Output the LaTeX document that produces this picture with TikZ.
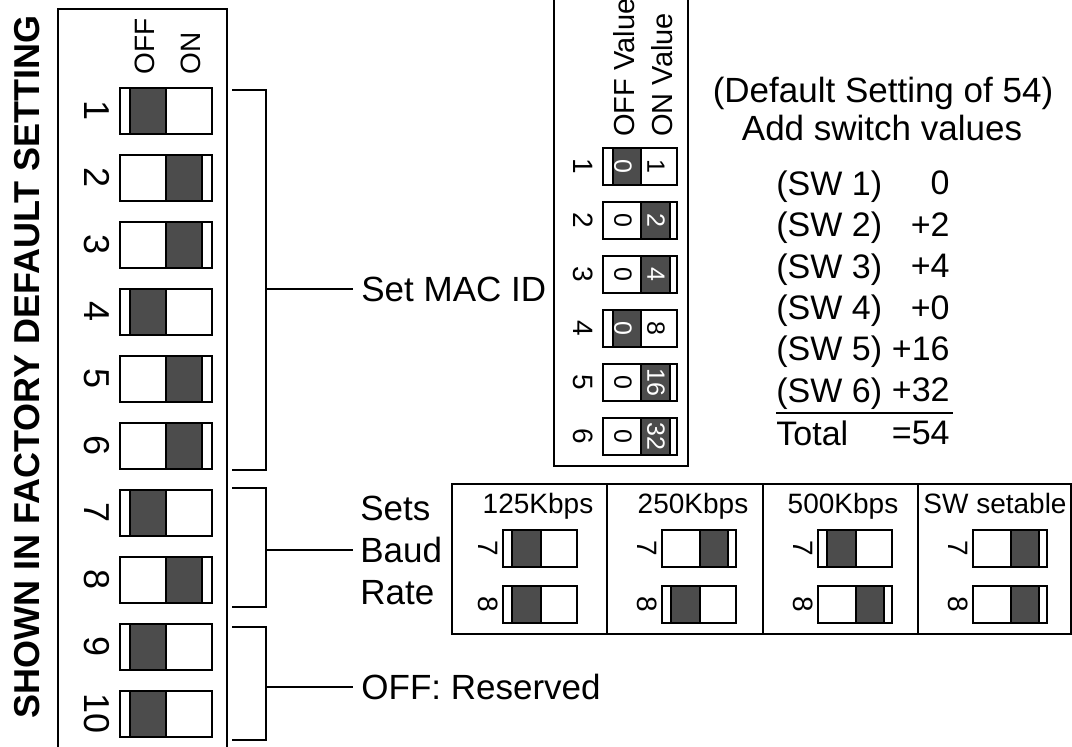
\documentclass[tikz,border=0pt]{standalone}
\usepackage{fontspec}
\setmainfont{Liberation Sans}
\usetikzlibrary{positioning}

\begin{document}
\begin{tikzpicture}[x=0.5pt, y=-0.5pt,
    frame/.style  = {line width=1.3pt, draw=black},
    swbody/.style = {line width=1pt, draw=black, fill=white},
    slider/.style = {line width=1pt, draw=black, fill=black!70},
    brk/.style    = {line width=1pt, draw=black},
    big/.style    = {font=\fontsize{17.5}{21}\selectfont, inner sep=0pt,
                     text depth=0pt},
    sumtxt/.style = {font=\fontsize{17}{20}\selectfont, inner sep=0pt,
                     text depth=0pt},
    title/.style  = {font=\fontsize{18}{22}\selectfont\bfseries, inner sep=0pt,
                     text depth=0pt, rotate=90},
    swnum/.style  = {font=\fontsize{18}{22}\selectfont, inner sep=0pt,
                     text depth=0pt, rotate=-90},
    small/.style  = {font=\fontsize{14}{17}\selectfont, inner sep=0pt,
                     text depth=0pt},
    rownum/.style = {font=\fontsize{14}{17}\selectfont, inner sep=0pt,
                     text depth=0pt, rotate=-90},
    val/.style    = {font=\fontsize{12.5}{15}\selectfont, inner sep=0pt,
                     text depth=0pt, rotate=-90},
]

\clip (0,0) rectangle (1072,747);

%% ==================================================================
%% DIP SWITCH BLOCK (factory default)
%% ==================================================================
\draw[frame] (58,760) -- (58,9) -- (227,9) -- (227,760);
\node[title] (factory) at (27,367) {SHOWN IN FACTORY DEFAULT SETTING};

\node[small, rotate=90, anchor=west] (offhd) at (145,75) {OFF};
\node[small, rotate=90, anchor=west] (onhd) at (191,75) {ON};

\foreach \i/\st in {1/0,2/1,3/1,4/0,5/1,6/1,7/0,8/1,9/0,10/0}{
    \pgfmathsetmacro{\yt}{88+67*(\i-1)}
    \pgfmathsetmacro{\sx}{130+36*\st}
    \draw[swbody] (120,\yt) rectangle (212,\yt+46);
    \draw[swbody] (166,\yt) -- (166,\yt+46);
    \draw[slider] (\sx,\yt) rectangle (\sx+36,\yt+46);
    \node[swnum] (sw\i) at (97,\yt+23) {\i};
}

%% ==================================================================
%% BRACKETS + LABELS
%% ==================================================================
\coordinate (macmid) at (266,289);
\coordinate (baudmid) at (266,550);
\coordinate (resmid) at (266,687);

\draw[brk] (232,90) -| (266,470) -- (232,470);
\draw[brk] (232,488) -| (266,607) -- (232,607);
\draw[brk] (232,627) -| (266,740) -- (232,740);

\node[big, anchor=west, inner xsep=4pt] (macid) at (353,289) {Set MAC ID};
\node[big, anchor=west, inner xsep=3.5pt, align=left] (baud) at (353,550)
    {Sets\\Baud\\Rate};
\node[big, anchor=west, inner xsep=4pt] (reserved) at (353,687)
    {OFF: Reserved};

\draw[brk] (macmid) -- (macid.west);
\draw[brk] (baudmid) -- (baud.west);
\draw[brk] (resmid) -- (reserved.west);

%% ==================================================================
%% MAC ID VALUE TABLE
%% ==================================================================
\draw[frame] (554,-10) -- (554,466) -- (688,466) -- (688,-10);
\node[small, font=\fontsize{14.5}{17}\selectfont, rotate=90, anchor=west]
    (offval) at (624,137) {OFF Value};
\node[small, font=\fontsize{14.5}{17}\selectfont, rotate=90, anchor=west]
    (onval) at (662,137) {ON Value};

\foreach \i/\st/\v in {1/0/1, 2/1/2, 3/1/4, 4/0/8, 5/1/16, 6/1/32}{
    \pgfmathsetmacro{\yt}{148+54*(\i-1)}
    \pgfmathsetmacro{\sx}{612.5+28.5*\st}
    \pgfmathtruncatemacro{\offw}{100*(1-\st)}
    \pgfmathtruncatemacro{\onw}{100*\st}
    \draw[swbody] (603,\yt) rectangle (677,\yt+37);
    \draw[swbody] (641,\yt) -- (641,\yt+37);
    \draw[slider] (\sx,\yt) rectangle (\sx+28.5,\yt+37);
    \node[rownum] (mac\i) at (583,\yt+18.5) {\i};
    \node[val, text=white!\offw!black] (off\i) at (623,\yt+18.5) {0};
    \node[val, text=white!\onw!black] (on\i) at (656,\yt+18.5) {\v};
}

%% ==================================================================
%% BAUD RATE TABLE
%% ==================================================================
\draw[frame] (452,484) rectangle (1071,634);
\foreach \xd in {607,763,918}
    \draw[frame] (\xd,484) -- (\xd,634);

\foreach \n/\hx/\hd/\sl/\sa/\sb in {1/538/125Kbps/503/0/0,
        2/693/250Kbps/662/1/0, 3/843/500Kbps/818/0/1,
        4/995/SW setable/973/1/1}{
    \node[small] (rate\n) at (\hx,503) {\hd};
    \foreach \r/\yt/\st in {7/530/\sa, 8/586/\sb}{
        \pgfmathsetmacro{\sx}{\sl+9+28.5*\st}
        \draw[swbody] (\sl,\yt) rectangle (\sl+74,\yt+37);
        \draw[swbody] (\sl+38,\yt) -- (\sl+38,\yt+37);
        \draw[slider] (\sx,\yt) rectangle (\sx+28.5,\yt+37);
        \node[rownum] (b\n sw\r) at (\sl-15,\yt+18.5) {\r};
    }
}

%% ==================================================================
%% SWITCH VALUE SUM
%% ==================================================================
\node[big] (deflt) at (883,90) {(Default Setting of 54)};
\node[big] (addsw) at (882,128) {Add switch values};

\foreach \i/\v [count=\k from 0] in {1/0, 2/+2, 3/+4, 4/+0, 5/+16, 6/+32}{
    \node[sumtxt, anchor=west] (swr\i) at (776,183+41.4*\k) {(SW \i)};
    \node[sumtxt, anchor=east] (swv\i) at (950,183+41.4*\k) {\v};
}
\draw[brk] (776,413) -- (953,413);
\node[sumtxt, anchor=west] (total) at (776,433) {Total};
\node[sumtxt, anchor=east] (sum) at (950,433) {=54};

\end{tikzpicture}
\end{document}
